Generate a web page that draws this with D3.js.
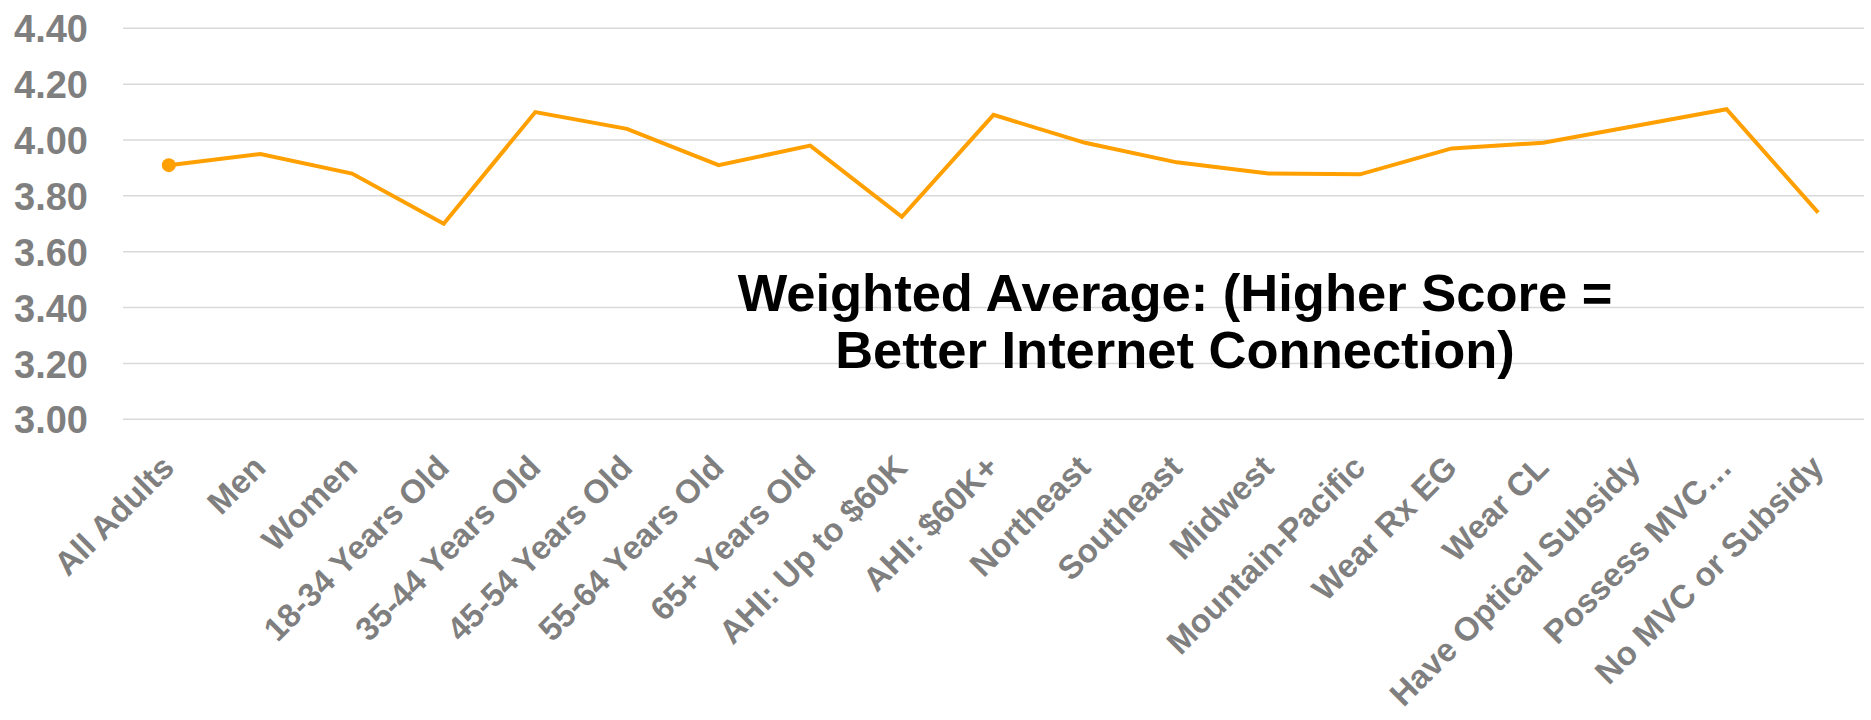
<!DOCTYPE html>
<html>
<head>
<meta charset="utf-8">
<script src="https://cdn.jsdelivr.net/npm/d3@7"></script>
<style>
  html, body { margin: 0; padding: 0; background: #ffffff; }
  svg { display: block; }
  text { font-family: "Liberation Sans", Arial, Helvetica, sans-serif; font-weight: bold; }
</style>
</head>
<body>
<svg id="chart" width="1871" height="720"></svg>
<script>
// Survey segments along the x axis
const categories = [
  "All Adults", "Men", "Women", "18-34 Years Old", "35-44 Years Old",
  "45-54 Years Old", "55-64 Years Old", "65+ Years Old", "AHI: Up to $60K",
  "AHI: $60K+", "Northeast", "Southeast", "Midwest", "Mountain-Pacific",
  "Wear Rx EG", "Wear CL", "Have Optical Subsidy", "Possess MVC…", "No MVC or Subsidy"
];

// Weighted average internet-connection score per segment
const scores = [
  3.91, 3.95, 3.88, 3.70, 4.10,
  4.04, 3.91, 3.98, 3.725,
  4.09, 3.99, 3.92, 3.88, 3.877,
  3.97, 3.99, 4.05, 4.11, 3.74
];

// Value-axis ticks
const yTicks = [3.0, 3.2, 3.4, 3.6, 3.8, 4.0, 4.2, 4.4];

// Annotation lines
const noteLines = ["Weighted Average: (Higher Score =", "Better Internet Connection)"];

const svg = d3.select("#chart");
const plot = { left: 123, right: 1864, top: 28.3, bottom: 419.3 };
const labelGray = "#7f7f7f";
const lineOrange = "#ffa000";

const x = d3.scaleBand()
  .domain(categories)
  .range([plot.left, plot.right])
  .paddingInner(0)
  .paddingOuter(0);

const y = d3.scaleLinear()
  .domain([3.0, 4.4])
  .range([plot.bottom, plot.top]);

// Horizontal gridlines
svg.append("g")
  .selectAll("line")
  .data(yTicks)
  .join("line")
  .attr("x1", plot.left)
  .attr("x2", plot.right)
  .attr("y1", d => y(d))
  .attr("y2", d => y(d))
  .attr("stroke", "#d9d9d9")
  .attr("stroke-width", 1.5);

// Value axis labels
const yAxis = svg.append("g")
  .attr("transform", `translate(88,0)`)
  .call(d3.axisLeft(y).tickValues(yTicks).tickFormat(d3.format(".2f")).tickSize(0).tickPadding(0));
yAxis.select(".domain").remove();
yAxis.selectAll("text")
  .attr("fill", labelGray)
  .attr("font-size", 38)
  .attr("dy", "0.36em");

// Category axis labels, rotated
const xAxis = svg.append("g")
  .attr("transform", `translate(0,${plot.bottom})`)
  .call(d3.axisBottom(x).tickSize(0).tickPadding(0));
xAxis.select(".domain").remove();
xAxis.selectAll("text")
  .attr("fill", labelGray)
  .attr("font-size", 33)
  .attr("text-anchor", "end")
  .attr("y", 0)
  .attr("dy", "0.35em")
  .attr("transform", "translate(-1,42) rotate(-45)");

// Score line
const line = d3.line()
  .x((d, i) => x(categories[i]) + x.bandwidth() / 2)
  .y(d => y(d));

svg.append("path")
  .datum(scores)
  .attr("d", line)
  .attr("fill", "none")
  .attr("stroke", lineOrange)
  .attr("stroke-width", 4)
  .attr("stroke-linejoin", "miter");

// Marker on the overall-population point
svg.append("circle")
  .attr("cx", x(categories[0]) + x.bandwidth() / 2)
  .attr("cy", y(scores[0]))
  .attr("r", 7)
  .attr("fill", lineOrange);

// Annotation text
svg.append("text")
  .attr("x", 1175)
  .attr("y", 311)
  .attr("text-anchor", "middle")
  .attr("font-size", 52.5)
  .attr("fill", "#000000")
  .selectAll("tspan")
  .data(noteLines)
  .join("tspan")
  .attr("x", 1175)
  .attr("dy", (d, i) => i === 0 ? 0 : 57)
  .text(d => d);
</script>
</body>
</html>
